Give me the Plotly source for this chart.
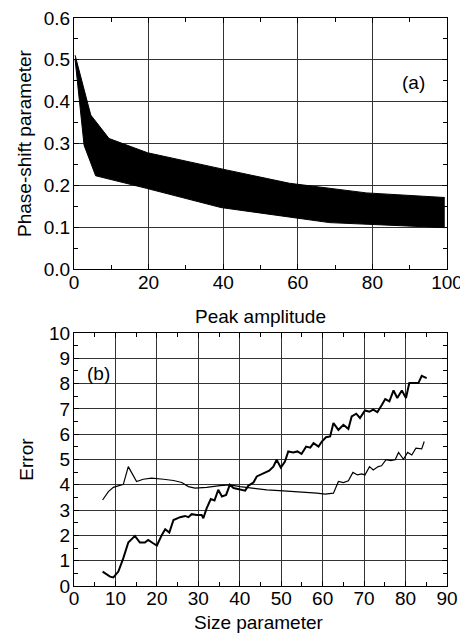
import plotly.graph_objects as go

# (a) band of phase-shift parameter vs peak amplitude
upper_x = [0.3, 4.5, 9.4, 19.7, 40.8, 57.8, 78.4, 99.4]
upper_y = [0.511, 0.368, 0.312, 0.278, 0.237, 0.205, 0.182, 0.171]
lower_x = [0.3, 2.7, 5.8, 19.4, 39.4, 68.5, 99.4]
lower_y = [0.500, 0.296, 0.223, 0.193, 0.147, 0.111, 0.099]
phase_ticks = [0.0, 0.1, 0.2, 0.3, 0.4, 0.5, 0.6]

# (b) error vs size parameter
thick_x = [6.9, 8.7, 9.5, 10.7, 11.9, 13.1, 14.7, 15.9, 17.1, 17.9, 19.1, 20.0, 21.2, 22.0,
           23.0, 24.0, 25.6, 26.8, 27.6, 28.4, 29.6, 30.8, 31.2, 32.0, 33.0, 33.9, 34.8, 35.7,
           36.7, 37.6, 38.5, 39.8, 41.3, 42.1, 43.3, 44.1, 44.9, 45.9, 47.1, 48.1, 48.9, 49.9,
           50.9, 51.7, 52.9, 53.9, 54.9, 56.0, 57.0, 57.8, 59.0, 59.8, 60.8, 61.8, 62.6, 63.8,
           65.0, 66.2, 67.0, 68.1, 69.0, 70.2, 71.3, 72.2, 73.2, 74.3, 75.1, 76.1, 77.1, 78.0,
           79.1, 80.1, 80.9, 82.3, 83.1, 83.9, 85.1]
thick_y = [0.57, 0.37, 0.34, 0.57, 1.10, 1.72, 1.98, 1.72, 1.72, 1.82, 1.69, 1.60, 2.02, 2.24,
           2.11, 2.61, 2.72, 2.77, 2.72, 2.84, 2.81, 2.81, 2.68, 3.07, 3.44, 3.38, 3.80, 3.54,
           3.60, 4.00, 3.87, 3.83, 3.77, 3.97, 4.09, 4.33, 4.39, 4.49, 4.56, 4.72, 4.99, 4.68,
           4.92, 5.32, 5.28, 5.32, 5.22, 5.51, 5.47, 5.65, 5.51, 5.71, 5.88, 5.91, 6.44, 6.17,
           6.37, 6.21, 6.70, 6.81, 6.64, 6.94, 6.89, 6.97, 6.87, 7.16, 7.39, 7.30, 7.73, 7.43,
           7.73, 7.43, 8.02, 8.02, 8.02, 8.31, 8.22]
thin_x = [6.9, 8.3, 9.5, 10.7, 11.9, 13.1, 15.1, 16.7, 18.7, 21.6, 24.0, 26.0, 27.6, 29.2,
          32.0, 35.2, 37.6, 40.1, 43.3, 46.5, 50.5, 54.5, 58.6, 60.6, 62.6, 63.8, 65.0, 66.2,
          67.3, 68.4, 69.4, 70.2, 71.3, 72.2, 73.4, 74.2, 75.3, 76.4, 77.5, 78.3, 79.5, 80.5,
          81.5, 82.5, 83.9, 84.5]
thin_y = [3.40, 3.73, 3.90, 3.97, 4.02, 4.72, 4.13, 4.22, 4.26, 4.22, 4.17, 4.09, 3.93, 3.87,
          3.90, 3.97, 4.00, 3.93, 3.87, 3.80, 3.76, 3.73, 3.67, 3.63, 3.67, 4.13, 4.09, 4.16,
          4.49, 4.39, 4.43, 4.39, 4.72, 4.59, 4.72, 4.75, 4.99, 4.96, 4.99, 5.28, 5.01, 5.28,
          5.18, 5.45, 5.42, 5.71]

FONT = "Liberation Sans, Arial, sans-serif"
FS = 19

fig = go.Figure()
fig.add_trace(go.Scatter(x=lower_x, y=lower_y, mode="lines", line=dict(color="black", width=1),
                         xaxis="x", yaxis="y"))
fig.add_trace(go.Scatter(x=upper_x, y=upper_y, mode="lines", line=dict(color="black", width=1),
                         fill="tonexty", fillcolor="black", xaxis="x", yaxis="y"))
fig.add_trace(go.Scatter(x=thin_x, y=thin_y, mode="lines", line=dict(color="black", width=1.2),
                         xaxis="x2", yaxis="y2"))
fig.add_trace(go.Scatter(x=thick_x, y=thick_y, mode="lines", line=dict(color="black", width=2),
                         xaxis="x2", yaxis="y2"))

axis_common = dict(showline=True, linecolor="black", linewidth=1, mirror="ticks",
                   ticks="inside", ticklen=5, tickcolor="black", automargin=False,
                   ticklabeloverflow="allow",
                   showgrid=True, gridcolor="#333", gridwidth=1, zeroline=False,
                   tickfont=dict(size=FS, color="black", family=FONT))

def minor(step):
    return dict(dtick=step, ticks="inside", ticklen=4, tickcolor="black", showgrid=False)

# the page body adds an 8px offset, so the figure is 8px smaller than the window
fig.update_layout(
    width=460, height=626, autosize=False,
    margin=dict(l=66, r=21, t=10, b=48),
    paper_bgcolor="white", plot_bgcolor="white",
    showlegend=False,
    font=dict(family=FONT, color="black", size=FS),
    xaxis=dict(axis_common, domain=[0, 1], anchor="y", range=[0, 100], dtick=20,
               minor=minor(10), ticklabelstandoff=-4),
    yaxis=dict(axis_common, domain=[0.558, 1], anchor="x", range=[0, 0.6],
               tickmode="array", tickvals=phase_ticks,
               ticktext=[f"{v:.1f}" for v in phase_ticks],
               minor=minor(0.05), ticklabelstandoff=-1,
               title=dict(text="Phase-shift parameter", standoff=7, font=dict(size=FS))),
    xaxis2=dict(axis_common, domain=[0, 1], anchor="y2", range=[0, 90], dtick=10,
                minor=minor(5), ticklabelstandoff=-5),
    yaxis2=dict(axis_common, domain=[0, 0.4454], anchor="x2", range=[0, 10], dtick=1,
                minor=minor(0.5), ticklabelstandoff=-1,
                title=dict(text="Error", standoff=10, font=dict(size=FS))),
    annotations=[
        dict(x=0.5, y=0.4736, xref="paper", yref="paper", text="Peak amplitude", showarrow=False,
             xanchor="center", yanchor="middle", font=dict(size=FS, color="black", family=FONT)),
        dict(x=0.497, y=-0.0634, xref="paper", yref="paper", text="Size parameter", showarrow=False,
             xanchor="center", yanchor="middle", font=dict(size=FS, color="black", family=FONT)),
        dict(x=91, y=0.447, xref="x", yref="y", text="(a)", showarrow=False,
             font=dict(size=FS, color="black", family=FONT)),
        dict(x=5.8, y=8.4, xref="x2", yref="y2", text="(b)", showarrow=False,
             font=dict(size=FS, color="black", family=FONT)),
    ],
)

fig.write_html("out.html")
